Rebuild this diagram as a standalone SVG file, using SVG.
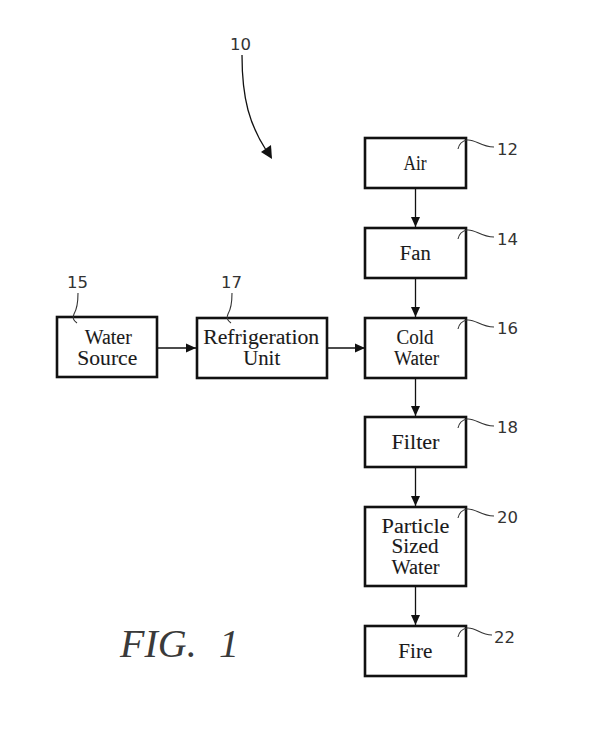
<svg xmlns="http://www.w3.org/2000/svg" width="598" height="750" viewBox="0 0 598 750">
<style>
.box{fill:#fff;stroke:#111;stroke-width:2.6}
.t{font-family:"Liberation Serif",serif;font-size:20px;fill:#1a1a1a;text-anchor:middle;stroke:#1a1a1a;stroke-width:0.1}
.lbl{font-family:"DejaVu Sans",sans-serif;font-size:16.5px;fill:#333}
.ld{fill:none;stroke:#333;stroke-width:1.1}
.cn{fill:none;stroke:#111;stroke-width:1.3}
</style>
<defs>
<marker id="ah" markerWidth="10" markerHeight="12" refX="10" refY="4.5" orient="auto" markerUnits="userSpaceOnUse" viewBox="0 0 10 9">
<path d="M0,0 L10,4.5 L0,9 Z" fill="#111"/>
</marker>
</defs>
<rect width="598" height="750" fill="#fff"/>
<g id="connectors">
<line class="cn" x1="415.5" y1="188" x2="415.5" y2="227" marker-end="url(#ah)"/>
<line class="cn" x1="415.5" y1="278" x2="415.5" y2="317" marker-end="url(#ah)"/>
<line class="cn" x1="415.5" y1="378" x2="415.5" y2="416" marker-end="url(#ah)"/>
<line class="cn" x1="415.5" y1="467" x2="415.5" y2="506" marker-end="url(#ah)"/>
<line class="cn" x1="415.5" y1="586" x2="415.5" y2="625" marker-end="url(#ah)"/>
<line class="cn" x1="157" y1="348" x2="196" y2="348" marker-end="url(#ah)"/>
<line class="cn" x1="327" y1="348" x2="365" y2="348" marker-end="url(#ah)"/>
</g>
<g id="ref10">
<text class="lbl" x="230" y="50">10</text>
<path class="cn" d="M242,55 C242,100 250,125 266,150"/>
<path d="M261,152 L272,159 L271,145 Z" fill="#111"/>
</g>
<g id="air">
<rect class="box" x="365" y="138" width="101" height="50"/>
<text class="t" x="415" y="169.5" textLength="23" lengthAdjust="spacingAndGlyphs">Air</text>
<path class="ld" d="M458,149 C459,144 462,141 467,140 C476,139 480,147 494,147"/>
<text class="lbl" x="497" y="155">12</text>
</g>
<g id="fan">
<rect class="box" x="365" y="228" width="101" height="50"/>
<text class="t" x="415.3" y="259.5" textLength="31" lengthAdjust="spacingAndGlyphs">Fan</text>
<path class="ld" d="M458,239 C459,234 462,231 467,230 C476,229 480,237 494,237"/>
<text class="lbl" x="497" y="245">14</text>
</g>
<g id="coldwater">
<rect class="box" x="365" y="318" width="101" height="60"/>
<text class="t" x="415" y="343.5" textLength="37" lengthAdjust="spacingAndGlyphs">Cold</text>
<text class="t" x="416.5" y="364.5" textLength="45" lengthAdjust="spacingAndGlyphs">Water</text>
<path class="ld" d="M458,329 C459,324 462,321 467,320 C476,319 480,327 494,327"/>
<text class="lbl" x="497" y="334">16</text>
</g>
<g id="watersource">
<rect class="box" x="57" y="317" width="100" height="60"/>
<text class="t" x="108.3" y="343.5" textLength="47" lengthAdjust="spacingAndGlyphs">Water</text>
<text class="t" x="107.3" y="364.5" textLength="60" lengthAdjust="spacingAndGlyphs">Source</text>
<path class="ld" d="M78,293 C78,302 77,309 74,314 C72,318 74,321 77,323"/>
<text class="lbl" x="67" y="288">15</text>
</g>
<g id="refrigeration">
<rect class="box" x="197" y="318" width="130" height="60"/>
<text class="t" x="261.2" y="343.5" textLength="116" lengthAdjust="spacingAndGlyphs">Refrigeration</text>
<text class="t" x="261.7" y="364.5" textLength="37" lengthAdjust="spacingAndGlyphs">Unit</text>
<path class="ld" d="M232,293 C232,302 231,309 228,314 C226,318 228,321 231,323"/>
<text class="lbl" x="221" y="288">17</text>
</g>
<g id="filter">
<rect class="box" x="365" y="417" width="101" height="50"/>
<text class="t" x="415.5" y="449.3" textLength="48" lengthAdjust="spacingAndGlyphs">Filter</text>
<path class="ld" d="M458,428 C459,423 462,420 467,419 C476,418 480,426 494,426"/>
<text class="lbl" x="497" y="433">18</text>
</g>
<g id="particle">
<rect class="box" x="365" y="507" width="101" height="79"/>
<text class="t" x="415.5" y="532.5" textLength="68" lengthAdjust="spacingAndGlyphs">Particle</text>
<text class="t" x="415" y="553" textLength="47" lengthAdjust="spacingAndGlyphs">Sized</text>
<text class="t" x="415.5" y="573.5" textLength="48" lengthAdjust="spacingAndGlyphs">Water</text>
<path class="ld" d="M458,518 C459,513 462,510 467,509 C476,508 480,516 494,516"/>
<text class="lbl" x="497" y="523">20</text>
</g>
<g id="fire">
<rect class="box" x="365" y="626" width="101" height="50"/>
<text class="t" x="415.3" y="657.7" textLength="34" lengthAdjust="spacingAndGlyphs">Fire</text>
<path class="ld" d="M458,637 C459,632 462,629 467,628 C476,627 480,635 492,635"/>
<text class="lbl" x="494" y="643">22</text>
</g>
<g id="figlabel">
<text x="120" y="657" font-family="Liberation Serif, serif" font-style="italic" font-size="40" fill="#3a3a3a">FIG.</text>
<text x="219" y="657" font-family="Liberation Serif, serif" font-style="italic" font-size="40" fill="#3a3a3a">1</text>
</g>
</svg>
